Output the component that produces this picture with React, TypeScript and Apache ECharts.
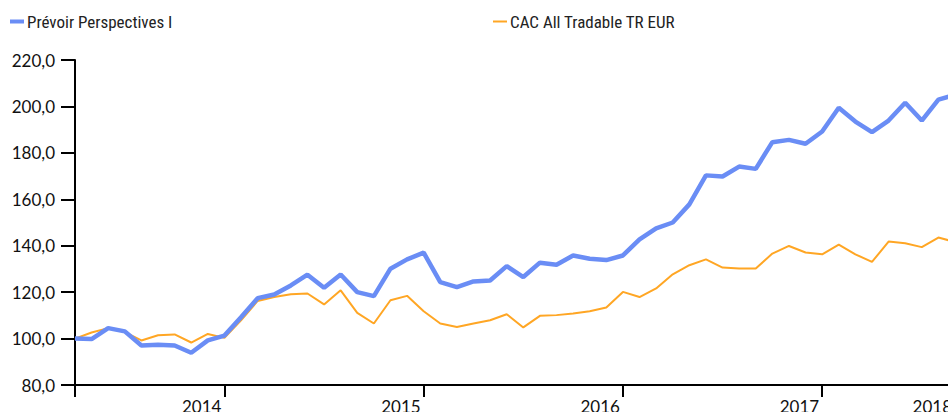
import React, { useEffect, useRef } from "react";
import * as echarts from "echarts";

const months = [
  "2013-03", "2013-04", "2013-05", "2013-06", "2013-07", "2013-08", "2013-09", "2013-10", "2013-11", "2013-12",
  "2014-01", "2014-02", "2014-03", "2014-04", "2014-05", "2014-06", "2014-07", "2014-08", "2014-09", "2014-10", "2014-11", "2014-12",
  "2015-01", "2015-02", "2015-03", "2015-04", "2015-05", "2015-06", "2015-07", "2015-08", "2015-09", "2015-10", "2015-11", "2015-12",
  "2016-01", "2016-02", "2016-03", "2016-04", "2016-05", "2016-06", "2016-07", "2016-08", "2016-09", "2016-10", "2016-11", "2016-12",
  "2017-01", "2017-02", "2017-03", "2017-04", "2017-05", "2017-06", "2017-07", "2017-08",
];

const prevoir = [
  100, 99.8, 104.5, 103.1, 97.0, 97.3, 97.0, 93.9, 99.2, 101.3,
  109.2, 117.4, 119.0, 122.9, 127.5, 121.9, 127.6, 120.0, 118.3, 130.1, 134.1, 137.0,
  124.3, 122.2, 124.6, 125.0, 131.2, 126.5, 132.7, 131.8, 135.8, 134.4, 133.8, 135.8,
  142.7, 147.5, 150.0, 157.8, 170.3, 169.8, 174.1, 173.1, 184.6, 185.6, 183.9, 189.2,
  199.4, 193.5, 188.9, 193.9, 201.6, 193.9, 202.9, 205.0,
];

const cac = [
  100, 102.6, 104.5, 102.8, 99.2, 101.4, 101.8, 98.3, 102.0, 100.3,
  107.9, 116.2, 117.9, 119.1, 119.4, 114.7, 120.8, 111.1, 106.5, 116.5, 118.4, 111.8,
  106.5, 105.0, 106.5, 107.9, 110.5, 104.8, 109.8, 110.1, 110.8, 111.8, 113.4, 120.1,
  117.9, 121.6, 127.7, 131.6, 134.1, 130.6, 130.2, 130.2, 136.6, 139.9, 137.1, 136.3,
  140.5, 136.3, 133.0, 141.8, 141.1, 139.4, 143.5, 141.6,
];

const tickIdx = [0, 9, 21, 33, 45];
const yearLabelIdx = [9, 21, 33, 45, 53];
const yearLabels = ["2014", "2015", "2016", "2017", "2018"];

const seriesNames = ["Prévoir Perspectives I", "CAC All Tradable TR EUR"];
const BLUE = "#6a8df5";
const ORANGE = "#ffa624";
const LABEL_FONT = "Lato, 'Open Sans', sans-serif";
const LEGEND_FONT = "'Roboto Condensed', Roboto, sans-serif";

export default function App() {
  const ref = useRef<HTMLDivElement>(null);
  useEffect(() => {
    if (!ref.current) return;
    const chart = echarts.init(ref.current, null, { renderer: "svg" });
    chart.setOption({
      animation: false,
      legend: [
        {
          data: [seriesNames[0]],
          left: 10,
          top: 13,
          padding: 0,
          icon: "rect",
          itemWidth: 14,
          itemHeight: 4,
          textStyle: { fontFamily: LEGEND_FONT, fontSize: 17, color: "#222", padding: [0, 0, 0, -2] },
        },
        {
          data: [seriesNames[1]],
          left: 493,
          top: 13,
          padding: 0,
          icon: "rect",
          itemWidth: 14,
          itemHeight: 2,
          textStyle: { fontFamily: LEGEND_FONT, fontSize: 17, color: "#222", padding: [0, 0, 0, -2] },
        },
      ],
      grid: { left: 75, top: 60, width: 880, bottom: 27, containLabel: false, outerBoundsMode: "none" },
      xAxis: {
        type: "category",
        data: months,
        boundaryGap: false,
        axisLine: { lineStyle: { color: "#000", width: 2 } },
        axisTick: {
          show: true,
          length: 12,
          interval: (idx: number) => tickIdx.includes(idx),
          lineStyle: { color: "#000", width: 2 },
        },
        axisLabel: {
          interval: (idx: number) => yearLabelIdx.includes(idx),
          formatter: (_v: string, idx: number) => {
            const k = yearLabelIdx.indexOf(idx);
            return k >= 0 ? yearLabels[k] : "";
          },
          align: "right",
          padding: [0, 3, 0, 0],
          margin: 13,
          fontFamily: LABEL_FONT,
          fontSize: 17,
          color: "#111",
        },
        splitLine: { show: false },
      },
      yAxis: {
        type: "value",
        min: 80,
        max: 220,
        interval: 20,
        axisLine: { show: true, lineStyle: { color: "#000", width: 2 } },
        axisTick: { show: true, length: 14, lineStyle: { color: "#000", width: 2 } },
        axisLabel: {
          formatter: (v: number) => v.toFixed(1).replace(".", ","),
          margin: 20,
          fontFamily: LABEL_FONT,
          fontSize: 17,
          color: "#111",
        },
        splitLine: { show: false },
      },
      series: [
        {
          name: seriesNames[0],
          type: "line",
          data: prevoir,
          showSymbol: false,
          z: 3,
          lineStyle: { color: BLUE, width: 4.5 },
          itemStyle: { color: BLUE },
        },
        {
          name: seriesNames[1],
          type: "line",
          data: cac,
          showSymbol: false,
          z: 2,
          lineStyle: { color: ORANGE, width: 2 },
          itemStyle: { color: ORANGE },
        },
      ],
    });
    return () => chart.dispose();
  }, []);
  return (
    <div
      ref={ref}
      style={{ position: "absolute", left: 0, top: 0, width: 948, height: 412, background: "#fff" }}
    />
  );
}
